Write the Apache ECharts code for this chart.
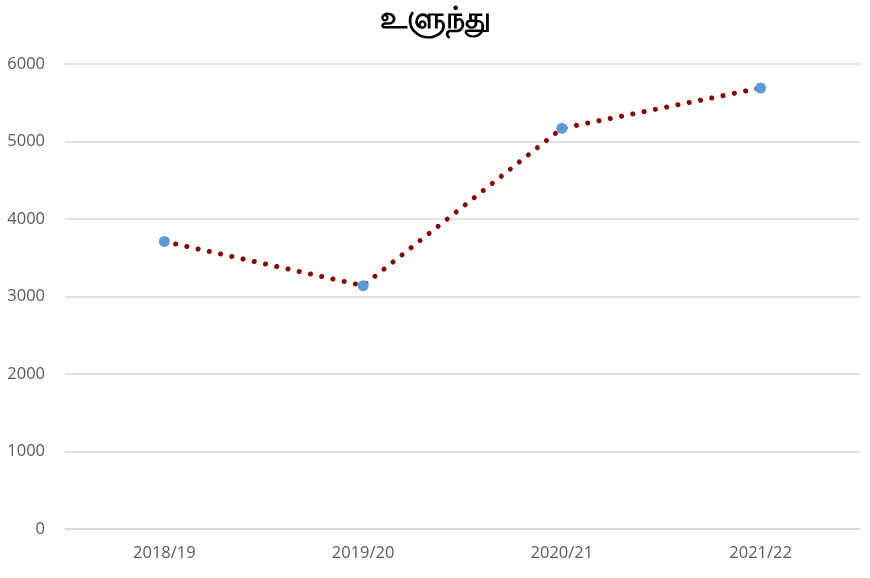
<!DOCTYPE html>
<html>
<head>
<meta charset="utf-8">
<script src="https://cdn.jsdelivr.net/npm/echarts@6/dist/echarts.min.js"></script>
<style>
  html, body { margin: 0; padding: 0; background: #fff; }
  #chart { width: 870px; height: 578px; }
</style>
</head>
<body>
<div id="chart"></div>
<script>
// data
var seasons = ["2018/19", "2019/20", "2020/21", "2021/22"];
var production = [3710, 3140, 5170, 5690];
var titleText = "உளுந்து";

var myChart = echarts.init(document.getElementById("chart"));
var option = {
  backgroundColor: "#fff",
  title: {
    text: titleText,
    left: "center",
    top: 0,
    textStyle: { fontSize: 30, fontWeight: "bold", color: "#000" }
  },
  grid: { left: 65, right: 10, top: 64, bottom: 49 },
  xAxis: {
    type: "category",
    data: seasons,
    boundaryGap: true,
    axisLine: { lineStyle: { color: "#d9d9d9", width: 1.5 } },
    axisTick: { show: false },
    axisLabel: { color: "#595959", fontSize: 16.5, margin: 16, fontFamily: "Open Sans" }
  },
  yAxis: {
    type: "value",
    min: 0,
    max: 6000,
    interval: 1000,
    axisLine: { show: false },
    axisTick: { show: false },
    splitLine: { lineStyle: { color: "#d9d9d9", width: 1.5 } },
    axisLabel: {
      color: "#595959",
      fontSize: 16.5,
      margin: 20,
      fontFamily: "Open Sans",
      formatter: function (v) { return String(v); }
    }
  },
  series: [
    {
      type: "line",
      data: production,
      symbol: "circle",
      symbolSize: 11,
      itemStyle: { color: "#5b9bd5" },
      lineStyle: { color: "#8b0000", width: 5, type: [0.01, 11.5], cap: "round" },
      z: 3
    }
  ]
};
option && myChart.setOption(option);
</script>
</body>
</html>
